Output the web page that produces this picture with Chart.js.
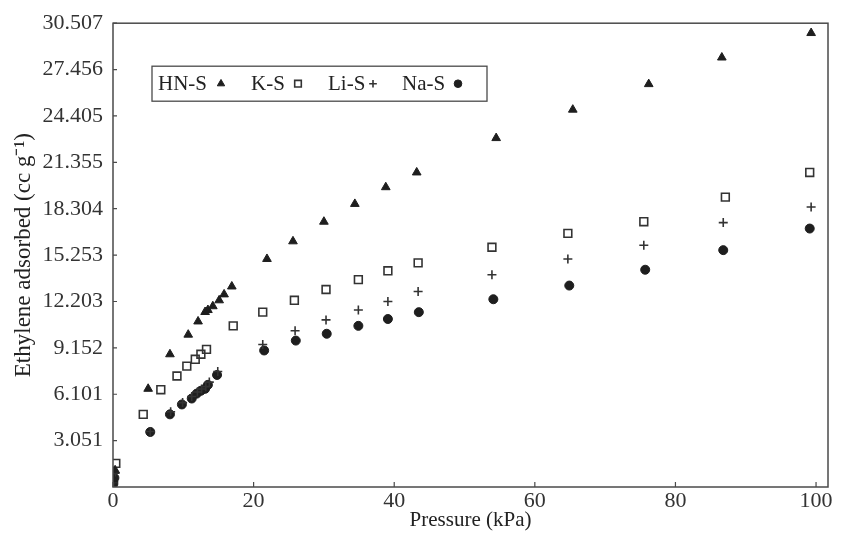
<!DOCTYPE html>
<html>
<head>
<meta charset="utf-8">
<script src="https://cdn.jsdelivr.net/npm/chart.js@4"></script>
<style>
  html, body { margin: 0; padding: 0; background: #fff; }
  #wrap { width: 846px; height: 534px; }
</style>
</head>
<body>
<div id="wrap"><canvas id="ch"></canvas></div>
<script>
// data (pressure kPa, adsorbed cc/g)
const seriesNames = ['HN-S', 'K-S', 'Li-S', 'Na-S'];

const hnX = [0.1, 0.3, 5.0, 8.1, 10.7, 12.1, 13.1, 13.5, 14.2, 15.1, 15.8, 16.9, 21.9, 25.6, 30.0, 34.4, 38.8, 43.2, 54.5, 65.4, 76.2, 86.6, 99.3];
const hnY = [0.5, 1.1, 6.46, 8.73, 10.02, 10.89, 11.51, 11.64, 11.89, 12.28, 12.67, 13.19, 15.0, 16.16, 17.45, 18.62, 19.72, 20.69, 22.95, 24.82, 26.5, 28.25, 29.86];

const kX = [0.4, 4.3, 6.8, 9.1, 10.5, 11.7, 12.5, 13.3, 17.1, 21.3, 25.8, 30.3, 34.9, 39.1, 43.4, 53.9, 64.7, 75.5, 87.1, 99.1];
const kY = [1.55, 4.78, 6.4, 7.3, 7.95, 8.4, 8.73, 9.05, 10.6, 11.5, 12.28, 12.99, 13.64, 14.22, 14.74, 15.77, 16.68, 17.45, 19.07, 20.69];

const liX = [0.1, 0.3, 5.3, 8.2, 9.9, 11.2, 12.0, 12.6, 13.2, 13.7, 14.9, 21.3, 25.9, 30.3, 34.9, 39.1, 43.4, 53.9, 64.7, 75.5, 86.8, 99.3];
const liY = [0.3, 0.9, 3.65, 4.95, 5.55, 5.95, 6.25, 6.45, 6.6, 6.9, 7.6, 9.37, 10.28, 10.99, 11.64, 12.2, 12.86, 13.96, 15.0, 15.9, 17.39, 18.42];

const naX = [0.05, 0.2, 5.3, 8.1, 9.8, 11.2, 11.9, 12.5, 13.1, 13.5, 14.8, 21.5, 26.0, 30.4, 34.9, 39.1, 43.5, 54.1, 64.9, 75.7, 86.8, 99.1];
const naY = [0.2, 0.6, 3.62, 4.78, 5.43, 5.82, 6.14, 6.33, 6.46, 6.72, 7.37, 8.98, 9.63, 10.08, 10.6, 11.05, 11.5, 12.35, 13.25, 14.29, 15.58, 17.0];

const xTicks = [0, 20, 40, 60, 80, 100];
const yTicks = [3.051, 6.101, 9.152, 12.203, 15.253, 18.304, 21.355, 24.405, 27.456, 30.507];

const pts = (xs, ys) => xs.map((v, i) => ({x: v, y: ys[i]}));
const ink = '#1e1e1e';

const datasets = [
    {label: seriesNames[0], data: pts(hnX, hnY), pointStyle: 'triangle', pointRadius: 5, backgroundColor: ink, borderColor: ink, borderWidth: 1},
    {label: seriesNames[1], data: pts(kX, kY), pointStyle: 'rect', pointRadius: 5.5, backgroundColor: 'rgba(0,0,0,0)', borderColor: '#333', borderWidth: 1.6},
    {label: seriesNames[2], data: pts(liX, liY), pointStyle: 'cross', pointRadius: 4.5, backgroundColor: ink, borderColor: '#333', borderWidth: 1.6},
    {label: seriesNames[3], data: pts(naX, naY), pointStyle: 'circle', pointRadius: 4.5, backgroundColor: ink, borderColor: ink, borderWidth: 1}
];

const serif = '"Liberation Serif", "Times New Roman", serif';

// box, inward ticks and the legend with markers after the names
const frame = {
    id: 'frame',
    afterDraw(chart) {
        const {ctx, chartArea: a, scales: {x, y}} = chart;
        ctx.save();
        ctx.strokeStyle = '#4a4a4a';
        ctx.lineWidth = 1.5;
        ctx.strokeRect(a.left, a.top, a.right - a.left, a.bottom - a.top);

        ctx.lineWidth = 1.2;
        ctx.beginPath();
        xTicks.forEach(v => {
            const px = x.getPixelForValue(v);
            ctx.moveTo(px, a.bottom);
            ctx.lineTo(px, a.bottom - 5);
        });
        yTicks.forEach(v => {
            const py = y.getPixelForValue(v);
            ctx.moveTo(a.left, py);
            ctx.lineTo(a.left + 4, py);
        });
        ctx.stroke();

        // legend
        const bx = a.left + 39, by = a.top + 43, bw = 335, bh = 35;
        ctx.lineWidth = 1.3;
        ctx.strokeRect(bx, by, bw, bh);
        const cy = by + bh / 2;
        const textX = [6, 99, 176, 250];
        const markX = [69, 146, 221, 306];
        ctx.font = '21px ' + serif;
        ctx.textBaseline = 'middle';
        chart.data.datasets.forEach((ds, i) => {
            ctx.fillStyle = '#222';
            ctx.fillText(ds.label, bx + textX[i], cy + 1);
            ctx.fillStyle = ds.backgroundColor;
            ctx.strokeStyle = ds.borderColor;
            ctx.lineWidth = ds.borderWidth;
            Chart.helpers.drawPoint(ctx, {pointStyle: ds.pointStyle, radius: ds.pointRadius * 0.85, borderWidth: ds.borderWidth, rotation: 0}, bx + markX[i], cy);
        });
        ctx.restore();
    }
};

const chart = new Chart('ch', {
    type: 'scatter',
    data: {datasets},
    options: {
        responsive: true,
        maintainAspectRatio: false,
        animation: false,
        events: [],
        layout: {padding: {left: 0, right: 18, top: 15, bottom: 0}},
        plugins: {legend: {display: false}, tooltip: {enabled: false}},
        scales: {
            x: {
                type: 'linear',
                min: 0,
                max: 101.7,
                afterFit: s => { s.height = 47; },
                afterBuildTicks: s => { s.ticks = xTicks.map(v => ({value: v})); },
                grid: {display: false, drawTicks: false},
                border: {display: false},
                ticks: {color: '#333', padding: 1, font: {family: serif, size: 22}, maxRotation: 0},
                title: {display: true, text: 'Pressure (kPa)', color: '#222', padding: {top: 0, bottom: 1}, font: {family: serif, size: 21}}
            },
            y: {
                type: 'linear',
                min: 0,
                max: 30.507,
                afterFit: s => { s.width = 113; },
                afterBuildTicks: s => { s.ticks = yTicks.map(v => ({value: v})); },
                grid: {display: false, drawTicks: false},
                border: {display: false},
                ticks: {color: '#333', padding: 10, font: {family: serif, size: 22}, callback: v => v.toFixed(3)},
                title: {display: true, text: 'Ethylene adsorbed (cc g⁻¹)', color: '#222', padding: {top: 10, bottom: 0}, font: {family: serif, size: 23}}
            }
        }
    },
    plugins: [frame]
});
</script>
</body>
</html>
